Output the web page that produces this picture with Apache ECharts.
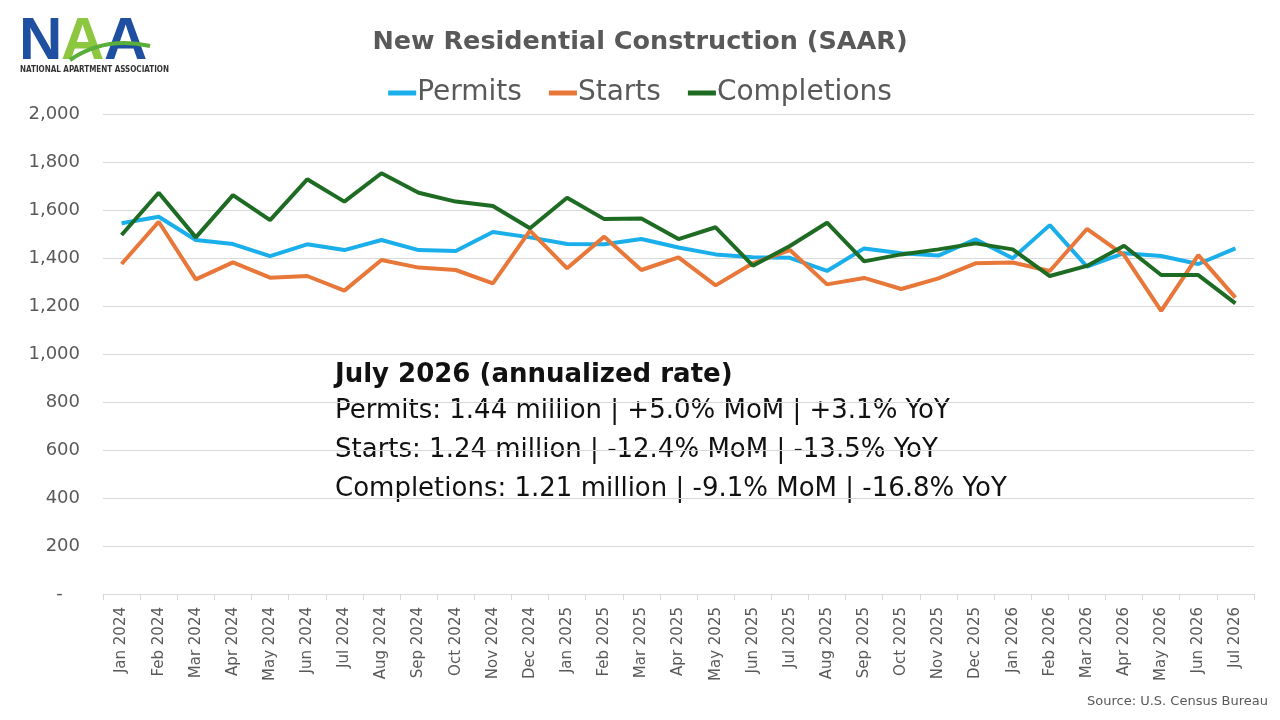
<!DOCTYPE html>
<html>
<head>
<meta charset="utf-8">
<title>New Residential Construction (SAAR)</title>
<script src="https://cdn.jsdelivr.net/npm/echarts@6/dist/echarts.min.js"></script>
<style>
  html, body { margin: 0; padding: 0; background: #fff; }
  #chart { width: 1280px; height: 720px; }
</style>
</head>
<body>
<div id="chart"></div>
<script>
var months = [
    'Jan 2024', 'Feb 2024', 'Mar 2024', 'Apr 2024', 'May 2024', 'Jun 2024', 'Jul 2024', 'Aug 2024', 'Sep 2024', 'Oct 2024', 'Nov 2024', 'Dec 2024',
    'Jan 2025', 'Feb 2025', 'Mar 2025', 'Apr 2025', 'May 2025', 'Jun 2025', 'Jul 2025', 'Aug 2025', 'Sep 2025', 'Oct 2025', 'Nov 2025', 'Dec 2025',
    'Jan 2026', 'Feb 2026', 'Mar 2026', 'Apr 2026', 'May 2026', 'Jun 2026', 'Jul 2026'
];

// thousands of units, seasonally adjusted annual rate
var permits = [
    1545, 1572, 1475, 1458, 1408, 1457, 1433, 1475, 1433, 1429, 1508, 1486,
    1458, 1457, 1479, 1444, 1415, 1403, 1401, 1346, 1440, 1420, 1410, 1478,
    1399, 1537, 1364, 1420, 1408, 1375, 1440
];
var starts = [
    1375, 1551, 1311, 1382, 1318, 1325, 1264, 1392, 1360, 1350, 1294, 1514,
    1357, 1489, 1350, 1403, 1286, 1378, 1433, 1290, 1317, 1271, 1315, 1378,
    1381, 1346, 1521, 1412, 1180, 1412, 1235
];
var completions = [
    1496, 1672, 1486, 1662, 1558, 1728, 1635, 1753, 1672, 1635, 1617, 1524,
    1651, 1562, 1565, 1479, 1528, 1368, 1450, 1547, 1386, 1415, 1436, 1461,
    1436, 1325, 1367, 1451, 1329, 1329, 1211
];

var noteLines = [
    'Permits: 1.44 million | +5.0% MoM | +3.1% YoY',
    'Starts: 1.24 million | -12.4% MoM | -13.5% YoY',
    'Completions: 1.21 million | -9.1% MoM | -16.8% YoY'
];

var chart = echarts.init(document.getElementById('chart'));

var gray = '#595959';
var textFont = '"DejaVu Sans", "Open Sans", sans-serif';

var option = {
    backgroundColor: '#fff',
    animation: false,
    title: {
        text: 'New Residential Construction (SAAR)',
        left: 'center',
        top: 24,
        textStyle: {
            fontFamily: textFont,
            fontSize: 25.5,
            fontWeight: 'bold',
            color: gray
        }
    },
    legend: {
        data: ['Permits', 'Starts', 'Completions'],
        top: 74,
        left: 'center',
        icon: 'rect',
        itemWidth: 28,
        itemHeight: 5,
        itemGap: 27,
        textStyle: {
            fontFamily: textFont,
            fontSize: 28,
            color: gray,
            padding: [0, 0, 0, -4]
        }
    },
    grid: {
        left: 103,
        right: 26,
        top: 114,
        bottom: 126
    },
    xAxis: {
        type: 'category',
        data: months,
        boundaryGap: true,
        axisLine: { lineStyle: { color: '#d9d9d9', width: 1 } },
        axisTick: { show: true, length: 6, lineStyle: { color: '#d9d9d9' } },
        axisLabel: {
            rotate: 90,
            interval: 0,
            margin: 13,
            fontFamily: textFont,
            fontSize: 15,
            color: gray
        }
    },
    yAxis: {
        type: 'value',
        min: 0,
        max: 2000,
        interval: 200,
        axisLine: { show: false },
        axisTick: { show: false },
        splitLine: { lineStyle: { color: '#d9d9d9', width: 1 } },
        axisLabel: {
            margin: 23,
            fontFamily: textFont,
            fontSize: 18,
            color: gray,
            formatter: function (v) {
                return v === 0 ? '-   ' : v.toLocaleString('en-US');
            }
        }
    },
    series: [
        {
            name: 'Permits',
            type: 'line',
            data: permits,
            symbol: 'none',
            lineStyle: { width: 4, color: '#1AAFEB' },
            itemStyle: { color: '#1AAFEB' }
        },
        {
            name: 'Starts',
            type: 'line',
            data: starts,
            symbol: 'none',
            lineStyle: { width: 4, color: '#E8773A' },
            itemStyle: { color: '#E8773A' }
        },
        {
            name: 'Completions',
            type: 'line',
            data: completions,
            symbol: 'none',
            lineStyle: { width: 4, color: '#1E6B23' },
            itemStyle: { color: '#1E6B23' }
        }
    ],
    graphic: [
        // NAA logo
        {
            type: 'text', left: 19, top: 12,
            style: { text: 'N', font: 'bold 60px "Liberation Sans", Arial, sans-serif', fill: '#1F4FA0' }
        },
        {
            type: 'text', left: 61, top: 12,
            style: { text: 'A', font: 'bold 60px "Liberation Sans", Arial, sans-serif', fill: '#8DC63F' }
        },
        {
            type: 'text', left: 104, top: 12,
            style: { text: 'A', font: 'bold 60px "Liberation Sans", Arial, sans-serif', fill: '#1F4FA0' }
        },
        {
            type: 'bezierCurve',
            shape: { x1: 70, y1: 60, cpx1: 105, cpy1: 36, x2: 150, y2: 46 },
            style: { stroke: '#5AAE3A', lineWidth: 4, fill: null }
        },
        {
            type: 'text', left: 20, top: 66,
            style: { text: 'NATIONAL APARTMENT ASSOCIATION', font: 'bold 8px "Liberation Sans Narrow", "DejaVu Sans Condensed", sans-serif', fill: '#333' }
        },
        // annotation block
        {
            type: 'text', left: 335, top: 362,
            style: { text: 'July 2026 (annualized rate)', font: 'bold 26px ' + textFont, fill: '#111' }
        },
        {
            type: 'text', left: 335, top: 398,
            style: { text: noteLines[0], font: '26px ' + textFont, fill: '#111' }
        },
        {
            type: 'text', left: 335, top: 437,
            style: { text: noteLines[1], font: '26px ' + textFont, fill: '#111' }
        },
        {
            type: 'text', left: 335, top: 476,
            style: { text: noteLines[2], font: '26px ' + textFont, fill: '#111' }
        },
        {
            type: 'text', right: 12, top: 695,
            style: { text: 'Source: U.S. Census Bureau', font: '13px ' + textFont, fill: gray }
        }
    ]
};

option && chart.setOption(option);
</script>
</body>
</html>
